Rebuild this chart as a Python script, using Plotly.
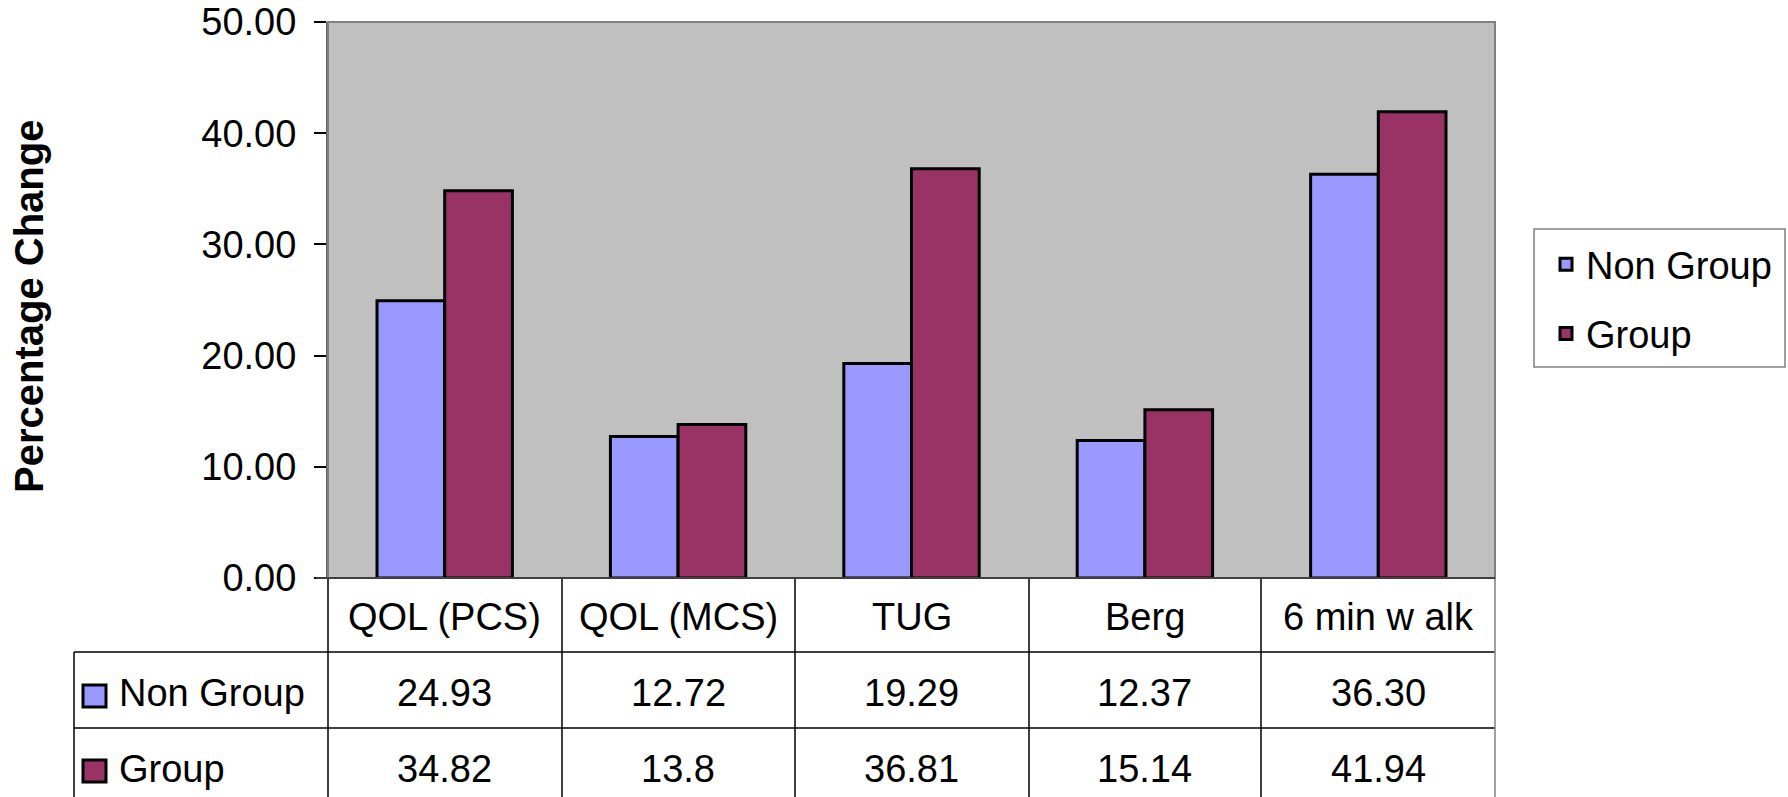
import plotly.graph_objects as go

# ---- data ----
categories = ["QOL (PCS)", "QOL (MCS)", "TUG", "Berg", "6 min w alk"]
non_group = [24.93, 12.72, 19.29, 12.37, 36.30]
group = [34.82, 13.8, 36.81, 15.14, 41.94]
non_group_text = ["24.93", "12.72", "19.29", "12.37", "36.30"]
group_text = ["34.82", "13.8", "36.81", "15.14", "41.94"]
series_names = ["Non Group", "Group"]
y_ticks = [0, 10, 20, 30, 40, 50]

# ---- style ----
W, H = 1788, 797
FONT = "Liberation Sans, Arial, sans-serif"
FS = 38
C_NON = "#9999FF"
C_GRP = "#993366"
BG = "#C0C0C0"

def px(x):
    return x / W

def py(y):
    return 1 - y / H

PL, PR, PT, PB = 328, 1495, 22, 578  # plot area (pixels)

fig = go.Figure()
fig.add_trace(go.Bar(x=categories, y=non_group, name=series_names[0],
                     marker=dict(color=C_NON, line=dict(color="black", width=3)),
                     legendgroup="a"))
fig.add_trace(go.Bar(x=categories, y=group, name=series_names[1],
                     marker=dict(color=C_GRP, line=dict(color="black", width=3)),
                     legendgroup="b"))

shapes = []
# plot border (gray)
shapes.append(dict(type="rect", xref="paper", yref="paper",
                   x0=px(PL), x1=px(PR), y0=py(PB), y1=py(PT),
                   line=dict(color="#808080", width=2), layer="above"))
# table lines
tbl_left = 74
row1_top, row2_top, tbl_bottom = 652, 728, 800
col_edges = [328, 562, 795, 1029, 1261, 1495]
for yy in [row1_top, row2_top]:
    shapes.append(dict(type="line", xref="paper", yref="paper",
                       x0=px(tbl_left), x1=px(PR), y0=py(yy), y1=py(yy),
                       line=dict(color="black", width=1.5)))
for i, xx in enumerate(col_edges):
    shapes.append(dict(type="line", xref="paper", yref="paper",
                       x0=px(xx), x1=px(xx), y0=py(PB), y1=py(tbl_bottom),
                       line=dict(color="#808080" if i == len(col_edges) - 1 else "black", width=1.5)))
shapes.append(dict(type="line", xref="paper", yref="paper",
                   x0=px(tbl_left), x1=px(tbl_left), y0=py(row1_top), y1=py(tbl_bottom),
                   line=dict(color="black", width=1.5)))
# x axis line
shapes.append(dict(type="line", xref="paper", yref="paper",
                   x0=px(PL - 12), x1=px(PR), y0=py(PB), y1=py(PB),
                   line=dict(color="#404040", width=2)))
# table legend keys
for (yc, col) in [(696, C_NON), (771, C_GRP)]:
    shapes.append(dict(type="rect", xref="paper", yref="paper",
                       x0=px(83), x1=px(106), y0=py(yc + 11), y1=py(yc - 11),
                       fillcolor=col, line=dict(color="black", width=3)))
# legend frame
shapes.append(dict(type="rect", xref="paper", yref="paper",
                   x0=px(1534), x1=px(1785), y0=py(367), y1=py(229),
                   fillcolor="white", line=dict(color="#808080", width=1.5)))

annotations = []
# category row
for c in categories:
    annotations.append(dict(x=c, xref="x", y=py(617), yref="paper", text=c,
                            showarrow=False, font=dict(size=FS, color="black", family=FONT),
                            xanchor="center", yanchor="middle"))
for c, t in zip(categories, non_group_text):
    annotations.append(dict(x=c, xref="x", y=py(693), yref="paper", text=t,
                            showarrow=False, font=dict(size=FS, color="black", family=FONT),
                            xanchor="center", yanchor="middle"))
for c, t in zip(categories, group_text):
    annotations.append(dict(x=c, xref="x", y=py(769), yref="paper", text=t,
                            showarrow=False, font=dict(size=FS, color="black", family=FONT),
                            xanchor="center", yanchor="middle"))
# row headers
for name, yc in zip(series_names, [693, 769]):
    annotations.append(dict(x=px(117), xref="paper", y=py(yc), yref="paper", text=name,
                            showarrow=False, font=dict(size=FS, color="black", family=FONT),
                            xanchor="left", yanchor="middle"))
# y title
annotations.append(dict(x=px(29), xref="paper", y=py(307), yref="paper",
                        text="<b>Percentage Change</b>", textangle=-90, showarrow=False,
                        font=dict(size=40, color="black", family=FONT),
                        xanchor="center", yanchor="middle"))

fig.update_layout(
    width=W, height=H,
    margin=dict(l=0, r=0, t=0, b=0, autoexpand=False),
    paper_bgcolor="white",
    plot_bgcolor=BG,
    barmode="group",
    bargap=0.42,
    bargroupgap=0,
    font=dict(family=FONT, size=FS, color="black"),
    shapes=shapes,
    annotations=annotations,
    showlegend=True,
    legend=dict(x=px(1546), y=py(233), xanchor="left", yanchor="top",
                borderwidth=0, bgcolor="rgba(0,0,0,0)",
                font=dict(size=FS, family=FONT, color="black"),
                tracegroupgap=17, traceorder="grouped"),
    xaxis=dict(domain=[px(PL), px(PR)], showticklabels=False, ticks="",
               showgrid=False, zeroline=False, showline=False, automargin=False),
    yaxis=dict(domain=[py(PB), py(PT)], range=[0, 50], tickvals=y_ticks,
               ticktext=[f"{v:.2f}" for v in y_ticks], ticks="outside", ticklen=12,
               tickcolor="black", tickwidth=1.5, ticklabelstandoff=10,
               ticklabeloverflow="allow",
               showgrid=False, zeroline=False, showline=True, linecolor="#606060",
               linewidth=2, automargin=False,
               tickfont=dict(size=FS, family=FONT, color="black")),
)

fig.write_html("out.html", config={"displayModeBar": False},
               post_script="document.body.style.margin='0';document.body.style.overflow='hidden';")
